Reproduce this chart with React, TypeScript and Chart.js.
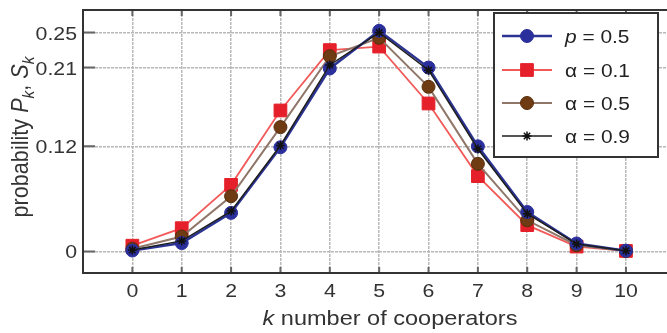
import { useEffect, useRef } from 'react';
import { Chart, registerables } from 'chart.js';

Chart.register(...registerables);

const kValues = [0, 1, 2, 3, 4, 5, 6, 7, 8, 9, 10];
const pHalf = [0.001, 0.0095, 0.044, 0.119, 0.209, 0.252, 0.21, 0.12, 0.045, 0.009, 0.0008];
const alpha01 = [0.0065, 0.0265, 0.076, 0.161, 0.23, 0.234, 0.169, 0.086, 0.03, 0.0055, 0.0005];
const alpha05 = [0.003, 0.017, 0.063, 0.142, 0.223, 0.244, 0.188, 0.1, 0.0355, 0.007, 0.0005];
const alpha09 = [0.0015, 0.012, 0.046, 0.121, 0.213, 0.25, 0.207, 0.117, 0.043, 0.0085, 0.0008];
const yTicks = [0, 0.12, 0.21, 0.25];
const yTickLabels = ['0', '0.12', '0.21', '0.25'];
const seriesNames = ['p = 0.5', 'α = 0.1', 'α = 0.5', 'α = 0.9'];
const xTitle = 'number of cooperators';
const yTitle = 'probability';

const FONT = '"Liberation Sans", Arial, Helvetica, sans-serif';
const SX = 1.12;

const toPoints = (vals: number[]) => kValues.map((k, i) => ({ x: k, y: vals[i] }));

function drawMarker(ctx: CanvasRenderingContext2D, style: string, r: number, x: number, y: number) {
  ctx.beginPath();
  if (style === 'circle') {
    ctx.arc(x, y, r, 0, Math.PI * 2);
    ctx.closePath();
    ctx.fill();
    ctx.stroke();
  } else if (style === 'rect') {
    const s = Math.SQRT1_2 * r;
    ctx.rect(x - s, y - s, 2 * s, 2 * s);
    ctx.fill();
    ctx.stroke();
  } else if (style === 'star') {
    ctx.moveTo(x - r, y);
    ctx.lineTo(x + r, y);
    ctx.moveTo(x, y - r);
    ctx.lineTo(x, y + r);
    const d = r * Math.SQRT1_2;
    ctx.moveTo(x - d, y - d);
    ctx.lineTo(x + d, y + d);
    ctx.moveTo(x - d, y + d);
    ctx.lineTo(x + d, y - d);
    ctx.stroke();
  }
}

type Part = { t: string; italic?: boolean; sub?: boolean };

function drawParts(
  ctx: CanvasRenderingContext2D,
  parts: Part[],
  size: number,
  x0: number,
  baseY: number,
  align: 'center' | 'left' | 'right',
  sx: number
) {
  const fontOf = (p: Part) =>
    `${p.italic ? 'italic ' : ''}${p.sub ? Math.round(size * 0.7) : size}px ${FONT}`;
  let total = 0;
  const widths = parts.map((p) => {
    ctx.font = fontOf(p);
    const w = ctx.measureText(p.t).width;
    total += w;
    return w;
  });
  ctx.save();
  ctx.translate(x0, baseY);
  ctx.scale(sx, 1);
  let x = align === 'center' ? -total / 2 : align === 'right' ? -total : 0;
  ctx.textAlign = 'left';
  ctx.textBaseline = 'alphabetic';
  parts.forEach((p, i) => {
    ctx.font = fontOf(p);
    ctx.fillText(p.t, x, p.sub ? size * 0.28 : 0);
    x += widths[i];
  });
  ctx.restore();
}

export default function App() {
  const ref = useRef<HTMLCanvasElement | null>(null);

  useEffect(() => {
    const canvas = ref.current;
    if (!canvas) return;

    const datasets: any[] = [
      {
        label: seriesNames[0],
        data: toPoints(pHalf),
        borderColor: '#2c3493',
        backgroundColor: '#2b2f9c',
        borderWidth: 2.5,
        pointStyle: 'circle',
        pointRadius: 6.5,
        pointBorderWidth: 1,
        pointBorderColor: '#2b2f9c',
        order: 1,
      },
      {
        label: seriesNames[1],
        data: toPoints(alpha01),
        borderColor: '#f25a5a',
        backgroundColor: '#e5202a',
        borderWidth: 1.8,
        pointStyle: 'rect',
        pointRadius: 9,
        pointBorderWidth: 1,
        pointBorderColor: '#e5202a',
        order: 3,
      },
      {
        label: seriesNames[2],
        data: toPoints(alpha05),
        borderColor: '#8f7668',
        backgroundColor: '#6e3b12',
        borderWidth: 2,
        pointStyle: 'circle',
        pointRadius: 6.5,
        pointBorderWidth: 1,
        pointBorderColor: '#5a2e0c',
        order: 2,
      },
      {
        label: seriesNames[3],
        data: toPoints(alpha09),
        borderColor: '#1e1e1e',
        backgroundColor: '#1e1e1e',
        borderWidth: 1.5,
        pointStyle: 'star',
        pointRadius: 4.5,
        pointBorderWidth: 1.5,
        pointBorderColor: '#111111',
        order: 0,
      },
    ];

    const framePlugin = {
      id: 'framePlugin',
      afterDraw(chart: any) {
        const ctx: CanvasRenderingContext2D = chart.ctx;
        const { left, right, top, bottom } = chart.chartArea;
        const xs = chart.scales.x;
        const ys = chart.scales.y;
        ctx.save();
        ctx.setLineDash([]);
        // tick marks inside the frame
        ctx.strokeStyle = '#666666';
        ctx.lineWidth = 2;
        ctx.beginPath();
        kValues.forEach((k) => {
          const px = xs.getPixelForValue(k);
          ctx.moveTo(px, bottom);
          ctx.lineTo(px, bottom - 6);
          ctx.moveTo(px, top);
          ctx.lineTo(px, top + 6);
        });
        yTicks.forEach((v) => {
          const py = ys.getPixelForValue(v);
          ctx.moveTo(left, py);
          ctx.lineTo(left + 12, py);
        });
        ctx.stroke();
        // frame
        ctx.strokeStyle = '#333333';
        ctx.lineWidth = 2;
        ctx.beginPath();
        ctx.moveTo(right + 5, top);
        ctx.lineTo(left, top);
        ctx.lineTo(left, bottom);
        ctx.lineTo(right + 5, bottom);
        ctx.stroke();

        // tick labels
        ctx.fillStyle = '#333333';
        kValues.forEach((k) => {
          drawParts(ctx, [{ t: String(k) }], 19, xs.getPixelForValue(k), 297, 'center', SX);
        });
        yTicks.forEach((v, i) => {
          drawParts(ctx, [{ t: yTickLabels[i] }], 19, 77, ys.getPixelForValue(v) + 7, 'right', SX);
        });

        // legend
        const lx = 494, ly = 13, lw = 164, lh = 144;
        ctx.fillStyle = '#ffffff';
        ctx.fillRect(lx, ly, lw, lh);
        ctx.strokeStyle = '#333333';
        ctx.lineWidth = 2;
        ctx.strokeRect(lx, ly, lw, lh);
        const rowY = [36, 70, 103, 136];
        const labels: Part[][] = [
          [{ t: 'p', italic: true }, { t: ' = 0.5' }],
          [{ t: 'α = 0.1' }],
          [{ t: 'α = 0.5' }],
          [{ t: 'α = 0.9' }],
        ];
        datasets.forEach((ds, i) => {
          const y = rowY[i];
          ctx.strokeStyle = ds.borderColor;
          ctx.lineWidth = ds.borderWidth;
          ctx.beginPath();
          ctx.moveTo(502, y);
          ctx.lineTo(552, y);
          ctx.stroke();
          ctx.fillStyle = ds.backgroundColor;
          ctx.strokeStyle = ds.pointBorderColor;
          ctx.lineWidth = ds.pointBorderWidth;
          drawMarker(ctx, ds.pointStyle, ds.pointRadius, 527, y);
          ctx.fillStyle = '#222222';
          drawParts(ctx, labels[i], 19, 565, y + 7, 'left', 1.1);
        });

        // axis titles
        ctx.fillStyle = '#333333';
        drawParts(ctx, [{ t: 'k', italic: true }, { t: ' ' + xTitle }], 21, 390, 325, 'center', SX);
        ctx.save();
        ctx.translate(28, 137);
        ctx.rotate(-Math.PI / 2);
        ctx.scale(1, 1.1);
        drawParts(
          ctx,
          [
            { t: yTitle + ' ' },
            { t: 'P', italic: true },
            { t: 'k', italic: true, sub: true },
            { t: ', ' },
            { t: 'S', italic: true },
            { t: 'k', italic: true, sub: true },
          ],
          21,
          0,
          0,
          'center',
          1.03
        );
        ctx.restore();
        ctx.restore();
      },
    };

    const chart = new Chart(canvas, {
      type: 'line',
      data: { datasets },
      options: {
        animation: false,
        responsive: false,
        devicePixelRatio: 1,
        layout: { padding: { top: 5, right: 10, left: 0, bottom: 0 } },
        plugins: { legend: { display: false }, tooltip: { enabled: false } },
        scales: {
          x: {
            type: 'linear',
            min: -1,
            max: 11.5,
            afterBuildTicks: (scale: any) => {
              scale.ticks = [-1, ...kValues, 11].map((v) => ({ value: v }));
            },
            afterFit: (scale: any) => {
              scale.height = 60;
            },
            ticks: { display: false },
            grid: { color: '#b8b8b8', lineWidth: 1.5, drawTicks: false },
            border: { display: false, dash: [3, 1] },
          },
          y: {
            type: 'linear',
            min: -0.0247,
            max: 0.2758,
            afterBuildTicks: (scale: any) => {
              scale.ticks = yTicks.map((v) => ({ value: v }));
            },
            afterFit: (scale: any) => {
              scale.width = 83;
            },
            ticks: { display: false },
            grid: { color: '#b8b8b8', lineWidth: 1.5, drawTicks: false },
            border: { display: false, dash: [3, 1] },
          },
        },
      },
      plugins: [framePlugin],
    } as any);

    return () => chart.destroy();
  }, []);

  return (
    <div style={{ position: 'fixed', left: 0, top: 0, width: 710, height: 333, background: '#ffffff' }}>
      <canvas ref={ref} width={710} height={333} style={{ width: 710, height: 333, display: 'block' }} />
    </div>
  );
}
